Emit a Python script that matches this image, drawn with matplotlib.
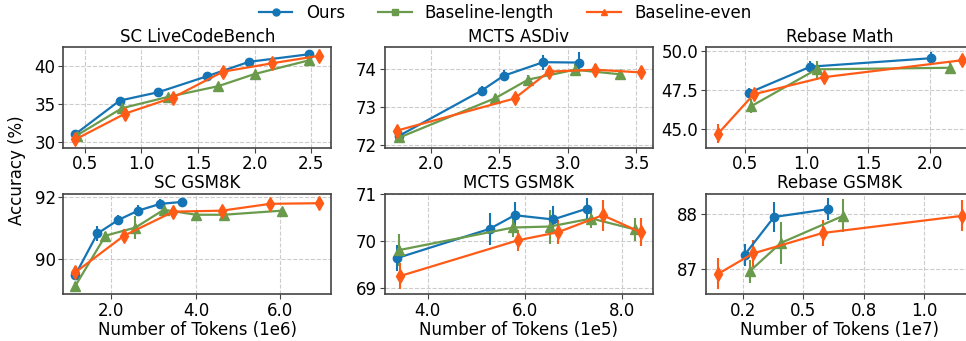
import matplotlib
matplotlib.use("Agg")
import matplotlib.pyplot as plt
from matplotlib.lines import Line2D
from matplotlib.ticker import MultipleLocator, FormatStrFormatter

# Colors / labels for the three methods
BLUE = "#1474b4"
GREEN = "#6a9a4b"
ORANGE = "#ff5b17"
METHODS = ["Ours", "Baseline-length", "Baseline-even"]

# --- SC LiveCodeBench (tokens in 1e6) ---
lcb_ours_x = [0.42, 0.81, 1.15, 1.58, 1.95, 2.48]
lcb_ours_y = [31.0, 35.4, 36.5, 38.6, 40.5, 41.5]
lcb_ours_err = [0.3, 0.3, 0.3, 0.3, 0.3, 0.3]
lcb_len_x = [0.43, 0.83, 1.24, 1.68, 2.00, 2.48]
lcb_len_y = [30.8, 34.4, 35.9, 37.3, 38.9, 40.7]
lcb_len_err = [0.3, 0.3, 0.3, 0.3, 0.3, 0.3]
lcb_even_x = [0.42, 0.86, 1.28, 1.72, 2.15, 2.57]
lcb_even_y = [30.3, 33.7, 35.8, 39.2, 40.3, 41.3]
lcb_even_err = [0.5, 0.5, 0.5, 0.5, 0.5, 0.5]

# --- MCTS ASDiv (tokens in 1e5) ---
asdiv_ours_x = [1.77, 2.37, 2.53, 2.82, 3.08]
asdiv_ours_y = [72.24, 73.43, 73.82, 74.18, 74.17]
asdiv_ours_err = [0.12, 0.12, 0.15, 0.2, 0.28]
asdiv_len_x = [1.77, 2.47, 2.71, 3.05, 3.38]
asdiv_len_y = [72.19, 73.23, 73.72, 73.98, 73.86]
asdiv_len_err = [0.15, 0.12, 0.12, 0.15, 0.12]
asdiv_even_x = [1.75, 2.61, 2.86, 3.20, 3.53]
asdiv_even_y = [72.37, 73.22, 73.93, 73.98, 73.91]
asdiv_even_err = [0.12, 0.1, 0.1, 0.15, 0.12]

# --- Rebase Math (tokens in 1e6) ---
rmath_ours_x = [0.53, 1.03, 2.01]
rmath_ours_y = [47.3, 48.97, 49.51]
rmath_ours_err = [0.3, 0.35, 0.4]
rmath_len_x = [0.55, 1.08, 2.16]
rmath_len_y = [46.45, 48.8, 48.9]
rmath_len_err = [0.45, 0.55, 0.4]
rmath_even_x = [0.28, 0.57, 1.14, 2.26]
rmath_even_y = [44.69, 47.21, 48.3, 49.38]
rmath_even_err = [0.6, 0.3, 0.35, 0.3]

# --- SC GSM8K (tokens in 1e6) ---
scg_ours_x = [1.15, 1.67, 2.16, 2.63, 3.16, 3.67]
scg_ours_y = [89.51, 90.83, 91.26, 91.56, 91.78, 91.84]
scg_ours_err = [0.15, 0.23, 0.15, 0.18, 0.15, 0.12]
scg_len_x = [1.15, 1.86, 2.57, 3.24, 4.00, 4.66, 6.03]
scg_len_y = [89.16, 90.76, 91.02, 91.59, 91.43, 91.43, 91.56]
scg_len_err = [0.12, 0.12, 0.38, 0.12, 0.1, 0.1, 0.1]
scg_even_x = [1.15, 2.30, 3.47, 4.61, 5.76, 6.92]
scg_even_y = [89.59, 90.76, 91.53, 91.56, 91.78, 91.80]
scg_even_err = [0.15, 0.2, 0.12, 0.12, 0.12, 0.12]

# --- MCTS GSM8K (tokens in 1e5) ---
mg_ours_x = [3.36, 5.27, 5.79, 6.58, 7.28]
mg_ours_y = [69.64, 70.26, 70.55, 70.46, 70.69]
mg_ours_err = [0.28, 0.34, 0.28, 0.29, 0.22]
mg_len_x = [3.40, 5.76, 6.51, 7.37, 8.26]
mg_len_y = [69.81, 70.29, 70.31, 70.48, 70.25]
mg_len_err = [0.34, 0.2, 0.36, 0.2, 0.25]
mg_even_x = [3.42, 5.86, 6.68, 7.60, 8.38]
mg_even_y = [69.26, 70.02, 70.19, 70.55, 70.19]
mg_even_err = [0.28, 0.22, 0.25, 0.33, 0.3]

# --- Rebase GSM8K (tokens in 1e7) ---
rg_ours_x = [0.257, 0.378, 0.600]
rg_ours_y = [87.26, 87.94, 88.08]
rg_ours_err = [0.2, 0.28, 0.2]
rg_len_x = [0.278, 0.406, 0.664]
rg_len_y = [86.96, 87.47, 87.96]
rg_len_err = [0.21, 0.38, 0.3]
rg_even_x = [0.146, 0.291, 0.579, 1.156]
rg_even_y = [86.91, 87.28, 87.65, 87.96]
rg_even_err = [0.28, 0.24, 0.23, 0.28]

titles = ["SC LiveCodeBench", "MCTS ASDiv", "Rebase Math",
          "SC GSM8K", "MCTS GSM8K", "Rebase GSM8K"]
xlabels = ["", "", "",
           "Number of Tokens (1e6)", "Number of Tokens (1e5)", "Number of Tokens (1e7)"]
xsteps = [0.5, 0.5, 0.5, 2.0, 2.0, 0.25]
ysteps = [5, 1, 2.5, 2, 1, 1]

panels = [
    [(lcb_ours_x, lcb_ours_y, lcb_ours_err), (lcb_len_x, lcb_len_y, lcb_len_err),
     (lcb_even_x, lcb_even_y, lcb_even_err)],
    [(asdiv_ours_x, asdiv_ours_y, asdiv_ours_err), (asdiv_len_x, asdiv_len_y, asdiv_len_err),
     (asdiv_even_x, asdiv_even_y, asdiv_even_err)],
    [(rmath_ours_x, rmath_ours_y, rmath_ours_err), (rmath_len_x, rmath_len_y, rmath_len_err),
     (rmath_even_x, rmath_even_y, rmath_even_err)],
    [(scg_ours_x, scg_ours_y, scg_ours_err), (scg_len_x, scg_len_y, scg_len_err),
     (scg_even_x, scg_even_y, scg_even_err)],
    [(mg_ours_x, mg_ours_y, mg_ours_err), (mg_len_x, mg_len_y, mg_len_err),
     (mg_even_x, mg_even_y, mg_even_err)],
    [(rg_ours_x, rg_ours_y, rg_ours_err), (rg_len_x, rg_len_y, rg_len_err),
     (rg_even_x, rg_even_y, rg_even_err)],
]

styles = [
    dict(color=BLUE, marker="o", markersize=6),
    dict(color=GREEN, marker="^", markersize=7),
    dict(color=ORANGE, marker="d", markersize=7),
]

plt.rcParams["font.size"] = 12
plt.rcParams["axes.edgecolor"] = "#444444"
plt.rcParams["axes.linewidth"] = 1.2

fig, axes = plt.subplots(2, 3, figsize=(9.66, 3.41), dpi=100)
fig.subplots_adjust(left=0.0655, right=1.0083, top=0.861, bottom=0.138,
                    wspace=0.198, hspace=0.458)

for i, ax in enumerate(axes.flat):
    for (x, y, err), st in zip(panels[i], styles):
        ax.errorbar(x, y, yerr=err, linewidth=1.6, elinewidth=1.5, capsize=0, **st)
    ax.set_title(titles[i], fontsize=12, pad=4)
    if xlabels[i]:
        ax.set_xlabel(xlabels[i], fontsize=12, labelpad=1)
    ax.xaxis.set_major_locator(MultipleLocator(xsteps[i]))
    ax.xaxis.set_major_formatter(FormatStrFormatter("%.1f"))
    ax.yaxis.set_major_locator(MultipleLocator(ysteps[i]))
    if ysteps[i] == 2.5:
        ax.yaxis.set_major_formatter(FormatStrFormatter("%.1f"))
    else:
        ax.yaxis.set_major_formatter(FormatStrFormatter("%d"))
    ax.grid(True, linestyle="--", color="#cccccc", linewidth=0.8)
    ax.tick_params(labelsize=12, color="#444444", pad=2)

fig.text(0.018, 0.5, "Accuracy (%)", rotation=90, va="center", ha="center", fontsize=12)

# legend uses its own small markers
handles = [
    Line2D([], [], color=BLUE, marker="o", markersize=5, linewidth=1.6),
    Line2D([], [], color=GREEN, marker="s", markersize=5, linewidth=1.6),
    Line2D([], [], color=ORANGE, marker="^", markersize=5, linewidth=1.6),
]
fig.legend(handles, METHODS, loc="center", bbox_to_anchor=(0.523, 0.962),
           ncol=3, frameon=False, fontsize=12, handlelength=2.0, columnspacing=2.0)

fig.savefig("out.png", dpi=100)
